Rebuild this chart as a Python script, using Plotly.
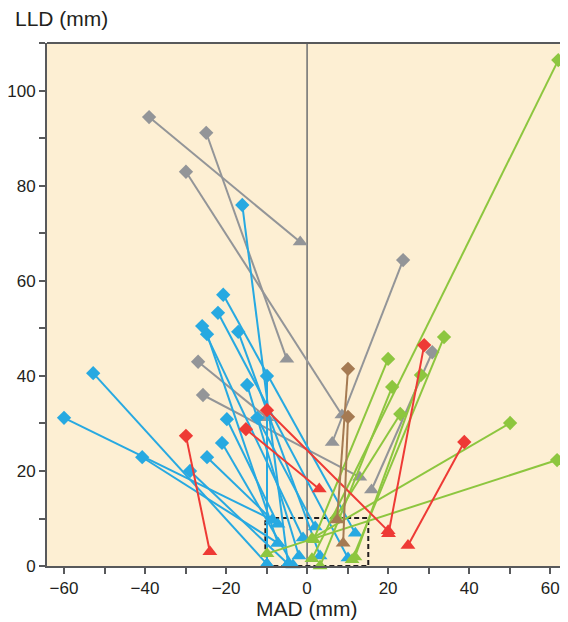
import plotly.graph_objects as go

# ---------------- data (pre-op = diamond, post-op = triangle) ----------------
gray_pre_x = [-39.0, -24.9, -29.9, 23.7, 30.9, -26.9, -25.7]
gray_pre_y = [94.5, 91.2, 83.0, 64.4, 45.0, 43.0, 36.0]
gray_post_x = [-1.7, -5.0, 8.6, 6.2, 15.9, -9.9, 13.0]
gray_post_y = [68.2, 43.5, 31.8, 26.0, 16.0, 31.2, 18.7]

blue_pre_x = [-16.0, -20.7, -22.0, -25.9, -24.7, -17.0, -9.9, -14.8,
              -19.8, -12.3, -21.0, -24.7, -28.9, -40.7, -52.8, -60.0]
blue_pre_y = [76.0, 57.1, 53.3, 50.5, 48.8, 49.3, 40.0, 38.1,
              30.9, 31.2, 25.9, 22.9, 20.0, 22.9, 40.6, 31.2]
blue_post_x = [-4.7, 11.9, 10.1, -1.0, -7.2, 3.2, -9.9, -2.0,
               -7.2, 2.0, -3.5, -8.6, -4.7, -7.2, -9.9, -8.6]
blue_post_y = [0.4, 6.9, 1.7, 5.9, 4.8, 2.1, 0.4, 2.1,
               8.8, 8.2, 0.2, 9.7, 0.4, 4.8, 0.4, 9.7]

green_pre_x = [62.0, 20.0, 21.0, 23.0, 28.1, 33.8, 50.1, 61.7]
green_pre_y = [106.5, 43.6, 37.7, 32.0, 40.2, 48.2, 30.1, 22.3]
green_post_x = [1.2, 1.6, 3.2, 7.2, 11.8, 11.1, 1.2, -9.9]
green_post_y = [1.5, 5.5, 0.0, 10.5, 1.9, 1.3, 5.8, 2.6]

red_pre_x = [-29.9, -15.1, -9.9, 28.9, 38.8]
red_pre_y = [27.4, 28.8, 32.8, 46.5, 26.1]
red_post_x = [-24.0, 3.0, 20.0, 20.1, 24.9]
red_post_y = [3.0, 16.2, 7.4, 6.8, 4.3]

brown_pre_x = [10.1, 10.1]
brown_pre_y = [41.5, 31.4]
brown_post_x = [7.4, 8.9]
brown_post_y = [9.7, 4.8]

x_tick_vals = [-60, -40, -20, 0, 20, 40, 60]
y_tick_vals = [0, 20, 40, 60, 80, 100]

groups = [
    ("gray", "#939598", gray_pre_x, gray_pre_y, gray_post_x, gray_post_y),
    ("blue", "#27a9e1", blue_pre_x, blue_pre_y, blue_post_x, blue_post_y),
    ("green", "#8dc63f", green_pre_x, green_pre_y, green_post_x, green_post_y),
    ("red", "#ee3a35", red_pre_x, red_pre_y, red_post_x, red_post_y),
    ("brown", "#a57a52", brown_pre_x, brown_pre_y, brown_post_x, brown_post_y),
]

fig = go.Figure()

for name, col, px, py, qx, qy in groups:
    lx, ly = [], []
    for a, b, c, d in zip(px, py, qx, qy):
        lx += [a, c, None]
        ly += [b, d, None]
    fig.add_trace(go.Scatter(x=lx, y=ly, mode="lines", line=dict(color=col, width=2),
                             hoverinfo="skip", showlegend=False, cliponaxis=False))
    fig.add_trace(go.Scatter(x=qx, y=qy, mode="markers",
                             marker=dict(symbol="triangle-up", size=13, color=col, line=dict(width=0)),
                             showlegend=False, cliponaxis=False, name=name + " post"))
    fig.add_trace(go.Scatter(x=px, y=py, mode="markers",
                             marker=dict(symbol="diamond", size=11, color=col, line=dict(width=0)),
                             showlegend=False, cliponaxis=False, name=name + " pre"))

axis_col = "#231f20"
# the page body adds an 8 px offset, so the figure is 8 px smaller and margins 8 px less
fig.update_layout(
    width=560, height=614,
    margin=dict(l=39, r=0, t=35, b=56, autoexpand=False),
    paper_bgcolor="white",
    plot_bgcolor="#fdefd3",
    font=dict(family="Liberation Sans, Arial, sans-serif", color=axis_col, size=17),
    showlegend=False,
    xaxis=dict(range=[-64.2, 64.4], tickvals=x_tick_vals, showgrid=False, zeroline=False,
               showline=True, linecolor="#58595b", linewidth=2,
               ticks="outside", ticklen=6, tickwidth=1.5, tickcolor="#58595b",
               minor=dict(dtick=10, tick0=0, ticks="outside", ticklen=6, tickwidth=1.5,
                          tickcolor="#58595b", showgrid=False),
               tickfont=dict(size=17, color=axis_col)),
    yaxis=dict(range=[0, 110.1], tickvals=y_tick_vals, showgrid=False, zeroline=False,
               showline=True, linecolor="#58595b", linewidth=2,
               ticks="outside", ticklen=6, tickwidth=1.5, tickcolor="#58595b",
               minor=dict(dtick=10, tick0=0, ticks="outside", ticklen=6, tickwidth=1.5,
                          tickcolor="#58595b", showgrid=False),
               tickfont=dict(size=17, color=axis_col)),
)

# top border, vertical zero line, dashed rectangle
fig.add_shape(type="line", xref="paper", yref="paper", x0=0, x1=1, y0=1, y1=1,
              line=dict(color="#58595b", width=2))
fig.add_shape(type="line", xref="x", yref="paper", x0=0, x1=0, y0=0, y1=1,
              line=dict(color="#6d6e71", width=1.5), layer="below")
fig.add_shape(type="rect", xref="x", yref="y", x0=-10.3, x1=15.1, y0=0, y1=10.1,
              line=dict(color="#231f20", width=2, dash="5px,3px"), layer="below")

fig.add_annotation(text="LLD (mm)", xref="paper", yref="paper", x=-0.066, y=1.046,
                   xanchor="left", yanchor="middle", showarrow=False,
                   font=dict(size=21, color=axis_col))
fig.add_annotation(text="MAD (mm)", xref="paper", yref="paper", x=0.499, y=-0.081,
                   xanchor="center", yanchor="middle", showarrow=False,
                   font=dict(size=21, color=axis_col))

fig.write_html("out.html")
